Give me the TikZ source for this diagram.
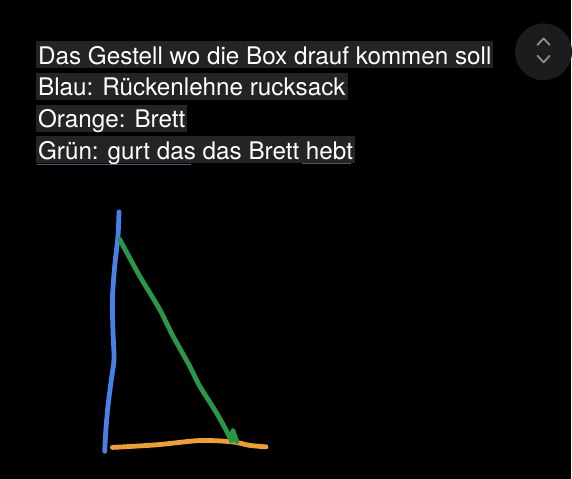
\documentclass[tikz,border=0pt]{standalone}
\usepackage{fontspec}
\setmainfont{TeX Gyre Heros}
\definecolor{chatbg}{RGB}{0, 0, 0}
\definecolor{markgray}{RGB}{36, 36, 38}
\definecolor{btngray}{RGB}{28, 28, 30}
\definecolor{chevgray}{RGB}{142, 142, 147}
\definecolor{lineunder}{RGB}{88, 86, 108}
\definecolor{penblue}{RGB}{72, 128, 230}
\definecolor{pengreen}{RGB}{42, 150, 72}
\definecolor{penorange}{RGB}{240, 160, 40}
\usetikzlibrary{positioning}

\begin{document}
\begin{tikzpicture}[x=1pt, y=-1pt,
  mline/.style={fill=markgray, text=white, anchor=base west, inner ysep=0pt, inner xsep=2pt,
    text height=23pt, text depth=4pt, font=\fontsize{24.3}{28}\selectfont},
  pen/.style={line width=4.8pt, line cap=round, line join=round}
]
  % background and page size
  \fill[chatbg] (0,0) rectangle (572,480);

  % message text
  \node[mline] (l1) at (36, 64.5) {Das Gestell wo die Box drauf kommen soll};
  \node[mline] (l2) at (36, 96.2) {Blau: Rückenlehne rucksack};
  \node[mline] (l3) at (36, 128) {Orange: Brett};
  \node[mline] (l4) at (36, 159.7) {Grün: gurt das das Brett hebt};
  \draw[lineunder, line width=1pt] (37, 165) -- (191, 165);
  \draw[lineunder, line width=1pt] (303, 164) -- (352, 164);

  % scroll button
  \node[circle, fill=btngray, minimum size=57pt, inner sep=0pt] (btn) at (545, 52) {};
  \draw[chevgray, line width=1.8pt, line cap=round, line join=round]
    ([xshift=-6pt, yshift=-4pt]btn.center) -- ([yshift=-10.5pt]btn.center) -- ([xshift=6pt, yshift=-4pt]btn.center);
  \draw[chevgray, line width=1.8pt, line cap=round, line join=round]
    ([xshift=-6pt, yshift=7pt]btn.center) -- ([yshift=13.5pt]btn.center) -- ([xshift=6pt, yshift=7pt]btn.center);

  % sketch
  \draw[pen, penblue] plot[smooth, tension=0.5] coordinates {
    (119.3,212.5) (118.3,236.7) (115,266.7) (112.7,300) (113.3,333) (114.3,360)
    (111.7,380) (108.3,406.7) (106,433) (105,452.5)};
  \draw[pen, penorange] plot[smooth, tension=0.5] coordinates {
    (112.7,448.6) (156.7,446) (200,441.7) (233,443) (250,446.5) (266.7,448)};
  \draw[pen, pengreen] plot[smooth, tension=0.4] coordinates {
    (120,240) (140,276.7) (160,310) (173.3,336.7) (190,366.7) (200,386.7)
    (216.7,413.3) (226,430) (232,442)};
  \draw[pen, pengreen] (232,442) -- (233.5,431.5) -- (237.5,443);
\end{tikzpicture}
\end{document}
